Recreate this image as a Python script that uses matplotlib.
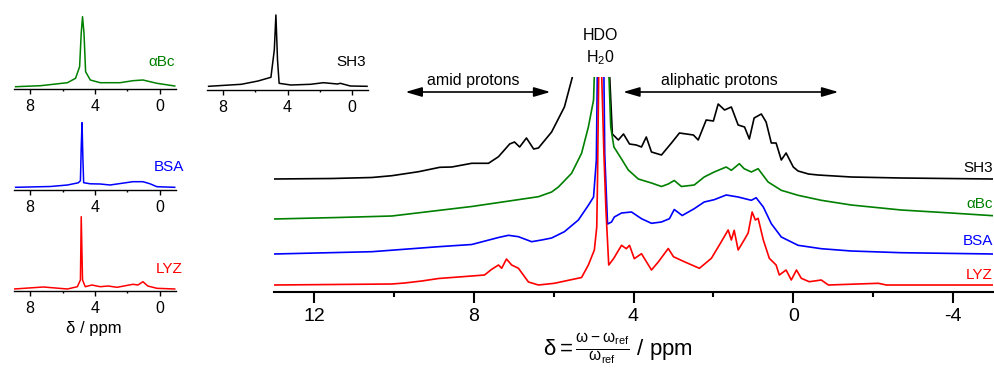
import matplotlib
matplotlib.use("Agg")
import matplotlib.pyplot as plt
from matplotlib.ticker import MultipleLocator

plt.rcParams['font.family'] = ['Liberation Sans', 'DejaVu Sans']
plt.rcParams['mathtext.fontset'] = 'custom'
plt.rcParams['mathtext.rm'] = 'Liberation Sans'
plt.rcParams['mathtext.it'] = 'Liberation Sans'
plt.rcParams['mathtext.default'] = 'regular'
plt.rcParams['axes.unicode_minus'] = False

W, H = 995, 369

# --- main panel: chemical shift (ppm) and intensity above each trace's own baseline
sh3_ppm = [13.0, 11.55, 10.55, 10.05, 9.38, 8.85, 8.55, 8.05, 7.63, 7.38,
           7.1, 6.98, 6.85, 6.68, 6.5, 6.38, 6.05, 5.73, 5.53, 5.2,
           4.82, 4.65, 4.53, 4.38, 4.25, 4.1, 3.93, 3.8, 3.68, 3.55,
           3.3, 3.05, 2.85, 2.5, 2.38, 2.18, 2.0, 1.88, 1.72, 1.55,
           1.38, 1.22, 1.1, 0.98, 0.8, 0.68, 0.55, 0.43, 0.3, 0.18,
           0.0, -0.12, -0.38, -0.62, -1.45, -2.7, -5.0]
sh3_int = [0, 0.5, 1.5, 3.3, 7.3, 11.7, 12, 15.7, 15.7, 22.3,
           35, 37, 32, 41, 30, 31, 47, 72, 102, 220,
           500, 150, 45, 39, 45, 35, 34, 32, 42, 27,
           24, 36, 46, 44, 39, 59, 58, 75, 69, 72,
           54, 52, 40, 61, 65, 57, 36, 36, 19, 26,
           12, 8, 5, 4, 2, 1, 0]

abc_ppm = [13.0, 11.4, 10.05, 9.0, 8.05, 7.23, 6.38, 6.05, 5.88, 5.55,
           5.3, 5.13, 5.0, 4.96, 4.82, 4.62, 4.57, 4.49, 4.3, 4.13,
           3.88, 3.55, 3.3, 3.13, 2.98, 2.8, 2.48, 2.23, 1.98, 1.68,
           1.55, 1.35, 1.23, 1.05, 0.88, 0.63, 0.3, -0.12, -0.7, -1.45,
           -2.7, -3.95, -5.0]
abc_int = [0, 1.5, 3, 8, 12.5, 17.3, 22.3, 27, 32, 45.7,
           65.7, 92, 119, 170, 450, 150, 92, 72, 60, 49,
           40, 36, 32.5, 35, 38.5, 32.5, 34, 42, 47, 52,
           48.7, 55.3, 50.3, 47, 50.3, 37, 28.7, 23.7, 18.7, 14,
           9, 6, 3.3]

bsa_ppm = [13.0, 10.55, 8.88, 8.05, 7.38, 7.13, 6.88, 6.55, 6.3, 6.05,
           5.73, 5.38, 5.13, 5.0, 4.93, 4.9, 4.82, 4.74, 4.72, 4.65,
           4.55, 4.48, 4.3, 4.05, 3.8, 3.55, 3.3, 3.1, 2.98, 2.78,
           2.48, 2.23, 1.98, 1.68, 1.38, 1.05, 0.93, 0.75, 0.55, 0.3,
           -0.12, -0.7, -1.45, -2.7, -5.0]
bsa_int = [0, 2.3, 7.3, 9.5, 16.5, 18.7, 17.3, 12.3, 14, 16,
           22.3, 34, 48.7, 57, 94, 200, 500, 177, 100, 30,
           32, 37, 41, 42, 35.3, 30.7, 32, 35.3, 44.5, 38.5,
           45.3, 52, 54.3, 59, 57, 53.7, 56.3, 47, 30.3, 17,
           8.7, 5.3, 3, 1.3, 0]

lyz_ppm = [13.0, 10.05, 9.73, 9.3, 8.88, 8.05, 7.73, 7.55, 7.38, 7.3,
           7.18, 7.05, 6.88, 6.63, 6.38, 5.98, 5.63, 5.3, 5.13, 4.98,
           4.92, 4.9, 4.87, 4.84, 4.8, 4.74, 4.69, 4.62, 4.5, 4.3,
           4.18, 4.1, 3.98, 3.8, 3.55, 3.38, 3.13, 3.0, 2.73, 2.35,
           2.05, 1.85, 1.63, 1.55, 1.48, 1.38, 1.23, 1.13, 1.03, 0.95,
           0.88, 0.75, 0.6, 0.43, 0.35, 0.18, 0.05, -0.08, -0.2, -0.4,
           -0.53, -0.7, -0.88, -2.13, -2.33, -5.0]
lyz_int = [0, 1, 2, 4, 6.5, 9, 10, 15.7, 20, 16.7,
           26, 20, 16.7, 3, 0, 1.7, 4.7, 7.5, 20, 35,
           58, 108, 215, 260, 215, 130, 75, 20, 26.3, 39.7,
           36.3, 39.7, 26.3, 31.3, 15, 23, 36.5, 28.3, 23.3, 16.7,
           26.7, 40, 55, 45, 54.7, 35, 45, 52, 73, 65,
           66.7, 45, 26.7, 20, 10, 15, 5, 15, 6.7, 3.3,
           4, 5, 0, 1.7, 0, 0]

# --- small full-range spectra (insets)
abc_small_ppm = [8.9, 7.36, 5.7, 5.2, 4.95, 4.85, 4.77, 4.68, 4.58, 4.29,
                 3.68, 2.45, 1.66, 1.04, 0.6, 0.18, -0.92]
abc_small_int = [0, 1, 4, 8.4, 20, 53.7, 70, 53.7, 15, 6.7,
                 4, 4, 6, 6.7, 5, 3.4, 0.7]
sh3_small_ppm = [8.9, 6.87, 5.83, 5.03, 4.82, 4.72, 4.62, 4.52, 3.8, 2.57,
                 1.77, 0.9, 0.72, 0.1, -0.94]
sh3_small_int = [0, 2, 5.3, 9, 36.3, 71.3, 26.3, 3, 1.3, 2,
                 3.6, 2.3, 3, 0.3, 0]
bsa_small_ppm = [8.9, 6.75, 5.7, 5.03, 4.9, 4.85, 4.8, 4.75, 4.7, 4.29,
                 3.68, 3.07, 1.66, 1.04, 0.6, 0.18, -0.92]
bsa_small_int = [0, 0.8, 2.3, 4.5, 6.6, 40, 64.6, 30, 4.6, 3.5,
                 3.3, 2.3, 5.6, 5.6, 3.5, 0.6, 0]
lyz_small_ppm = [9.0, 7.18, 5.7, 5.09, 4.9, 4.85, 4.77, 4.6, 4.19, 3.68,
                 3.19, 2.64, 1.66, 1.35, 1.04, 0.74, 0.18, -0.92]
lyz_small_int = [0, 2, 0, 2.3, 9, 72.3, 9, 2.3, 4, 2.3,
                 3, 1.7, 4.7, 4, 7.3, 3, 0.7, 0]

labels = ['SH3', 'αBc', 'BSA', 'LYZ']
colors = ['black', '#008000', '#0000ff', '#ff0000']
offsets = [113, 73, 38, 7]   # vertical stacking in the main panel


def rect(left, top, right, bottom):
    """pixel box -> figure fraction [l, b, w, h]"""
    return [left / W, 1 - bottom / H, (right - left) / W, (bottom - top) / H]


def fxy(x, y):
    return x / W, 1 - y / H


def style_axis(ax, size, length, width, pad):
    for s in ['left', 'right', 'top']:
        ax.spines[s].set_visible(False)
    ax.spines['bottom'].set_linewidth(width)
    ax.set_yticks([])
    ax.set_facecolor('none')
    ax.xaxis.set_major_locator(MultipleLocator(4))
    ax.xaxis.set_minor_locator(MultipleLocator(2))
    ax.tick_params(axis='x', which='major', direction='out', length=length,
                   width=width, labelsize=size, pad=pad)
    ax.tick_params(axis='x', which='minor', direction='out', length=length * 0.45,
                   width=width)


fig = plt.figure(figsize=(W / 100, H / 100), dpi=100)

# main stacked spectra
ax = fig.add_axes(rect(274, 77, 993, 292))
mains = [(sh3_ppm, sh3_int), (abc_ppm, abc_int), (bsa_ppm, bsa_int), (lyz_ppm, lyz_int)]
for (x, y), c, off in zip(mains, colors, offsets):
    ax.plot(x, [v + off for v in y], color=c, lw=1.2, solid_joinstyle='round')
ax.set_xlim(13, -5)
ax.set_ylim(0, 215)
style_axis(ax, 14, 7.7, 1.5, 4)

for lab, c, yb in zip(labels, colors, [172, 208.5, 245, 279.3]):
    fig.text(*fxy(993, yb), lab, color=c, fontsize=11, ha='right', va='baseline')

# region arrows
arrow = dict(arrowstyle='<|-|>,head_length=0.55,head_width=0.16', color='black',
             lw=1.2, mutation_scale=18, shrinkA=0, shrinkB=0)
ax.annotate('', xy=(6.08, 200), xytext=(9.71, 200), arrowprops=arrow, annotation_clip=False)
ax.annotate('', xy=(-1.13, 200), xytext=(4.26, 200), arrowprops=arrow, annotation_clip=False)
fig.text(*fxy(473, 85), 'amid protons', fontsize=11.5, ha='center', va='baseline')
fig.text(*fxy(719, 85), 'aliphatic protons', fontsize=11.5, ha='center', va='baseline')
fig.text(*fxy(600, 40), 'HDO', fontsize=11.5, ha='center', va='baseline')
fig.text(*fxy(600, 62), 'H$_2$0', fontsize=11.5, ha='center', va='baseline')

fig.text(*fxy(618, 355), r'$δ = \frac{ω - ω_{ref}}{ω_{ref}}$ / ppm', fontsize=16,
         ha='center', va='baseline')

# insets
insets = [
    ((sh3_small_ppm, sh3_small_int), (207, 10, 368, 90), 3.7, (366, 65.7)),
    ((abc_small_ppm, abc_small_int), (14, 10, 176, 89), 2.3, (175, 65.7)),
    ((bsa_small_ppm, bsa_small_int), (14, 115, 176, 190), 2.7, (184, 171)),
    ((lyz_small_ppm, lyz_small_int), (14, 210, 176, 291), 2.0, (183, 273)),
]
for ((x, y), box, base, lpos), lab, c in zip(insets, labels, colors):
    ia = fig.add_axes(rect(*box))
    ia.plot(x, y, color=c, lw=1.1, solid_joinstyle='round')
    ia.set_xlim(9, -1)
    ia.set_ylim(-base, box[3] - box[1] - base)
    style_axis(ia, 11.5, 3.6, 1.0, 3.5)
    fig.text(*fxy(*lpos), lab, color=c, fontsize=11, ha='right', va='baseline')

fig.text(*fxy(94, 333), 'δ / ppm', fontsize=12, ha='center', va='baseline')

fig.savefig('out.png', dpi=100)
